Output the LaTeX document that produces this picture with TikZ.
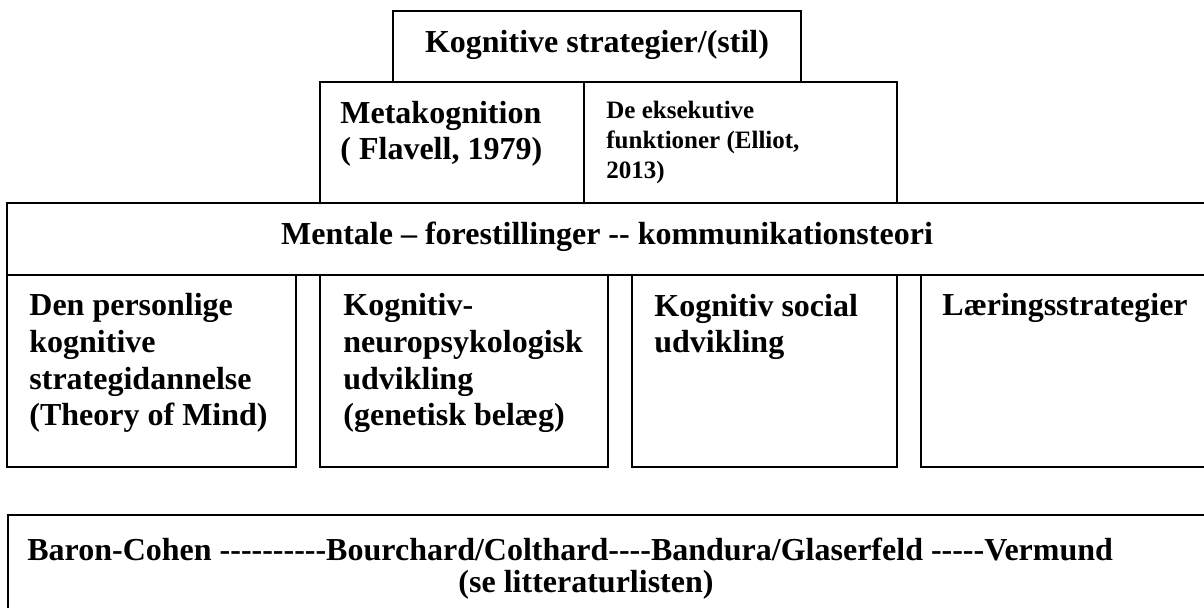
\documentclass[tikz,border=0pt]{standalone}
\usepackage{fontspec}
\setmainfont{Liberation Serif}[Ligatures=TeXOff]
\begin{document}
\begin{tikzpicture}[x=0.5pt, y=-0.5pt,
  box/.style={draw, line width=1pt},
  txt/.style={font=\fontsize{16}{18.35}\selectfont\bfseries, inner sep=0pt, align=left},
  smalltxt/.style={font=\fontsize{12.5}{15}\selectfont\bfseries, inner sep=0pt, align=left}]
  \useasboundingbox (0,0) rectangle (1204,608);
  \clip (0,0) rectangle (1204,608);

  % Top of the pyramid
  \draw[box] (393,11) rectangle (801,82);
  \node[txt, anchor=base] (stil) at (597,53) {Kognitive strategier/(stil)};

  % Second level (base = last line)
  \draw[box] (320,82) rectangle (584,203);
  \draw[box] (584,82) rectangle (897,203);
  \node[txt, anchor=base west] (meta) at (340,160) {Metakognition\\( Flavell, 1979)};
  \node[smalltxt, anchor=base west] (eksek) at (606,179) {De eksekutive\\funktioner (Elliot,\\2013)};

  % Wide band
  \draw[box] (7,203) rectangle (1240,275);
  \node[txt, anchor=base] (mentale) at (607,245) {Mentale – forestillinger -- kommunikationsteori};

  % Four columns
  \draw[box] (7,275) rectangle (296,467);
  \draw[box] (320,275) rectangle (608,467);
  \draw[box] (632,275) rectangle (897,467);
  \draw[box] (921,275) rectangle (1240,467);
  \node[txt, anchor=base west] (personlig) at (29,426) {Den personlige\\kognitive\\strategidannelse\\(Theory of Mind)};
  \node[txt, anchor=base west] (neuro) at (343,426) {Kognitiv-\\neuropsykologisk\\udvikling\\(genetisk belæg)};
  \node[txt, anchor=base west] (social) at (654,353) {Kognitiv social\\udvikling};
  \node[txt, anchor=base west] (laering) at (942,316) {Læringsstrategier};

  % Literature
  \draw[box] (8,515) rectangle (1240,640);
  \node[txt, anchor=base west] (refs) at (27,560) {Baron-Cohen ----------Bourchard/Colthard----Bandura/Glaserfeld -----Vermund};
  \node[txt, anchor=base] (litt) at (586,592) {(se litteraturlisten)};
\end{tikzpicture}
\end{document}
